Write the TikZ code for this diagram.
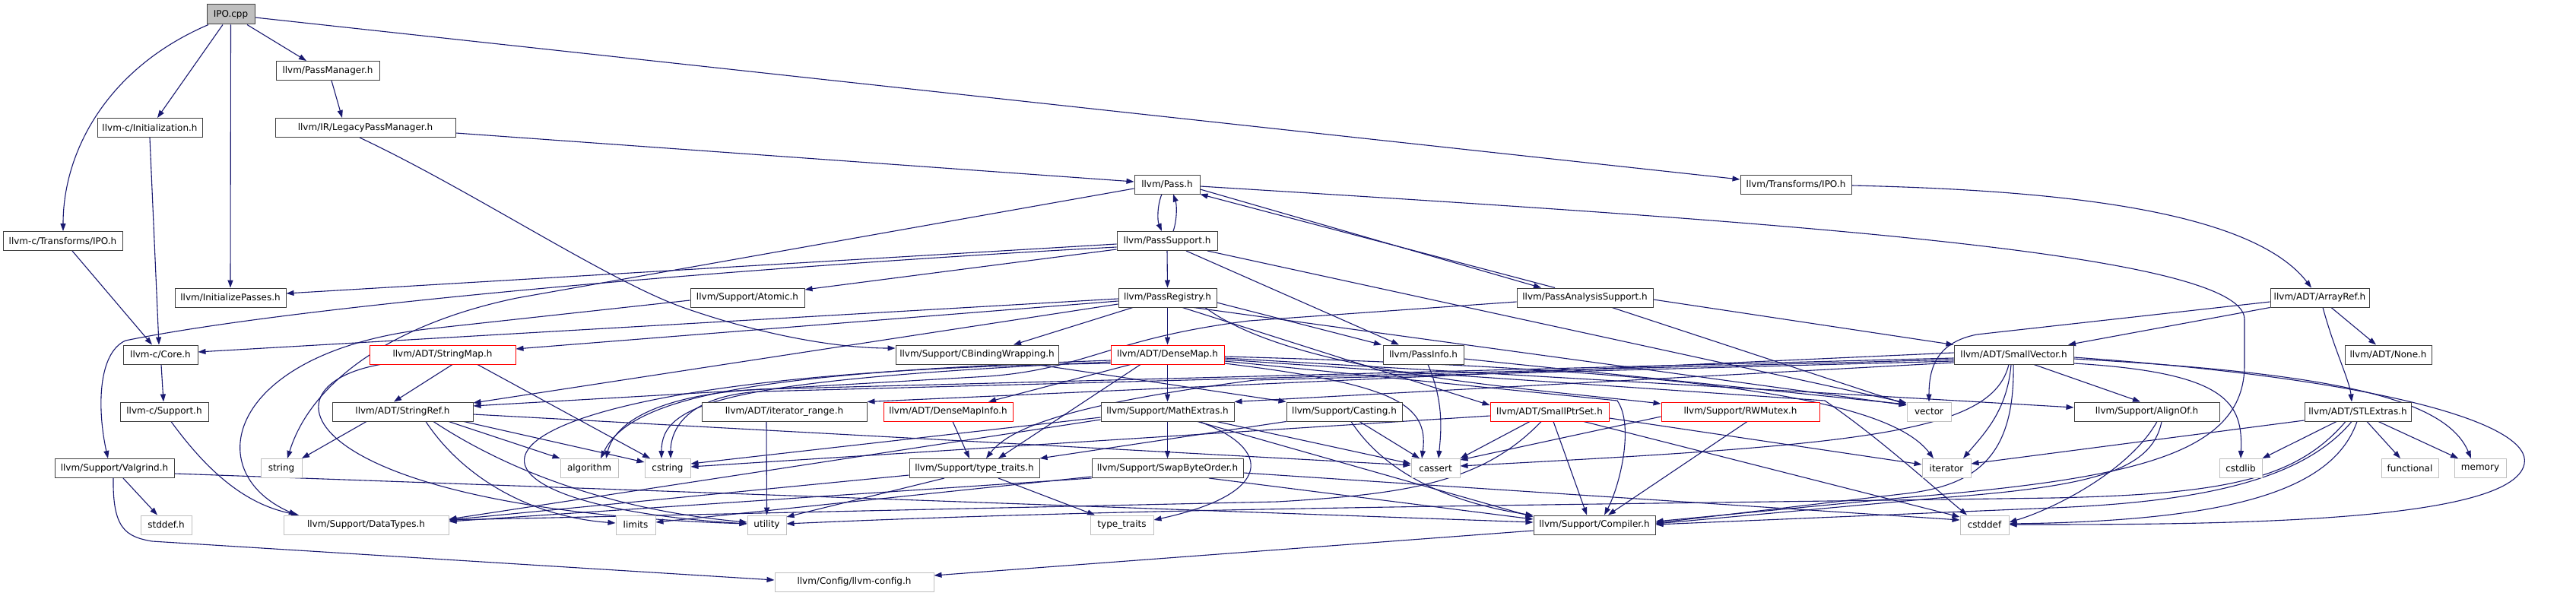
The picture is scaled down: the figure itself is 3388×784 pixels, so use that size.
\documentclass[tikz,border=0pt]{standalone}
\usepackage{fontspec}
\setmainfont{DejaVu Sans}
\usetikzlibrary{arrows.meta}
\definecolor{edgec}{HTML}{191970}
\definecolor{bordc}{HTML}{404040}
\definecolor{grayb}{HTML}{BFBFBF}
\definecolor{redb}{HTML}{FF0000}
\definecolor{ipof}{HTML}{BFBFBF}
\pgfdeclarelayer{back}
\pgfdeclarelayer{bg}
\pgfsetlayers{back,bg,main}
\begin{document}
\begin{tikzpicture}[x=1pt,y=-1pt,
  box/.style={draw=bordc, line width=1pt, fill=white, rectangle, inner sep=0pt,
    minimum height=25pt, font=\fontsize{12}{14}\selectfont},
  sysbox/.style={box, draw=grayb},
  trunc/.style={box, draw=redb},
  dep/.style={draw=edgec, line width=1.1pt, -{Triangle[length=10pt,width=7pt]}}]
\begin{pgfonlayer}{back}
\fill[white] (0,0) rectangle (3388,784);
\end{pgfonlayer}
\useasboundingbox (0,0) rectangle (3388,784);

% ---------------- nodes ----------------
\node[box, fill=ipof, minimum width=63pt, minimum height=26pt] (ipo) at (303.5,19) {IPO.cpp};
\node[box, minimum width=136pt] (pm) at (431,93) {llvm/PassManager.h};
\node[box, minimum width=138pt] (init) at (197,168) {llvm-c/Initialization.h};
\node[box, minimum width=237pt] (lpm) at (480.5,168) {llvm/IR/LegacyPassManager.h};
\node[box, minimum width=86pt] (pass) at (1535,242.5) {llvm/Pass.h};
\node[box, minimum width=146pt] (tipo) at (2362,242.5) {llvm/Transforms/IPO.h};
\node[box, minimum width=157pt] (tipoc) at (82.5,317) {llvm-c/Transforms/IPO.h};
\node[box, minimum width=132pt] (psup) at (1535,317) {llvm/PassSupport.h};
\node[box, minimum width=146pt] (initp) at (303,391.5) {llvm/InitializePasses.h};
\node[box, minimum width=150pt] (atomic) at (983,391.5) {llvm/Support/Atomic.h};
\node[box, minimum width=129pt] (preg) at (1535.5,391.5) {llvm/PassRegistry.h};
\node[box, minimum width=179pt] (pas) at (2084.5,391.5) {llvm/PassAnalysisSupport.h};
\node[box, minimum width=130pt] (aref) at (3051,391.5) {llvm/ADT/ArrayRef.h};
\node[box, minimum width=98pt] (core) at (211,466.5) {llvm-c/Core.h};
\node[trunc, minimum width=192pt] (smap) at (582,466.5) {llvm/ADT/StringMap.h};
\node[box, minimum width=214pt] (cbw) at (1285,466.5) {llvm/Support/CBindingWrapping.h};
\node[trunc, minimum width=149pt] (dmap) at (1535.5,466.5) {llvm/ADT/DenseMap.h};
\node[box, minimum width=106pt] (pinfo) at (1872,466.5) {llvm/PassInfo.h};
\node[box, minimum width=157pt] (svec) at (2648.5,466.5) {llvm/ADT/SmallVector.h};
\node[box, minimum width=114pt] (none) at (3141,466.5) {llvm/ADT/None.h};
\node[box, minimum width=116pt] (csup) at (216,541.5) {llvm-c/Support.h};
\node[box, minimum width=185pt] (sref) at (529.5,541.5) {llvm/ADT/StringRef.h};
\node[box, minimum width=217pt] (itr) at (1031.5,541.5) {llvm/ADT/iterator\_range.h};
\node[trunc, minimum width=170pt] (dmi) at (1247,541.5) {llvm/ADT/DenseMapInfo.h};
\node[box, minimum width=175pt] (mext) at (1535.5,541.5) {llvm/Support/MathExtras.h};
\node[box, minimum width=152pt] (cast) at (1768,541.5) {llvm/Support/Casting.h};
\node[trunc, minimum width=156pt] (sps) at (2038,541.5) {llvm/ADT/SmallPtrSet.h};
\node[trunc, minimum width=208pt] (rw) at (2289,541.5) {llvm/Support/RWMutex.h};
\node[sysbox, minimum width=58pt] (vector) at (2537,541.5) {vector};
\node[box, minimum width=191pt] (align) at (2823.5,541.5) {llvm/Support/AlignOf.h};
\node[box, minimum width=140pt] (stl) at (3101,541.5) {llvm/ADT/STLExtras.h};
\node[box, minimum width=157pt] (valg) at (150.5,616) {llvm/Support/Valgrind.h};
\node[sysbox, minimum width=54pt] (string) at (370,616) {string};
\node[sysbox, minimum width=76pt] (algo) at (775,616) {algorithm};
\node[sysbox, minimum width=60pt] (cstring) at (878,616) {cstring};
\node[box, minimum width=171pt] (ttr) at (1281.5,616) {llvm/Support/type\_traits.h};
\node[box, minimum width=199pt] (sbo) at (1535.5,616) {llvm/Support/SwapByteOrder.h};
\node[sysbox, minimum width=64pt] (cassert) at (1888,616) {cassert};
\node[sysbox, minimum width=64pt] (iter) at (2560,616) {iterator};
\node[sysbox, minimum width=56pt] (cstdlib) at (2947,616) {cstdlib};
\node[sysbox, minimum width=75pt] (func) at (3169.5,616) {functional};
\node[sysbox, minimum width=68pt] (memory) at (3262,616) {memory};
\node[sysbox, minimum width=67pt] (stddef) at (218.5,690.5) {stddef.h};
\node[sysbox, minimum width=217pt] (dtypes) at (481.5,690.5) {llvm/Support/DataTypes.h};
\node[sysbox, minimum width=52pt] (limits) at (836,690.5) {limits};
\node[sysbox, minimum width=51pt] (utility) at (1008.5,690.5) {utility};
\node[sysbox, minimum width=83pt] (tt) at (1475.5,690.5) {type\_traits};
\node[box, minimum width=160pt] (comp) at (2097,690.5) {llvm/Support/Compiler.h};
\node[sysbox, minimum width=64pt] (cstddef) at (2610,690.5) {cstddef};
\node[sysbox, minimum width=209pt] (cfg) at (1123.5,765.5) {llvm/Config/llvm-config.h};

% ---------------- edges ----------------
\begin{pgfonlayer}{bg}
% IPO.cpp
\draw[dep] (ipo.south -| 274,0) .. controls (140,90) and (83,200) .. (tipoc.north -| 83,0);
\draw[dep] (ipo.south -| 293,0) -- (init.north -| 207,0);
\draw[dep] (ipo.south) -- (initp.north);
\draw[dep] (ipo.south -| 325,0) -- (pm.north -| 403,0);
\draw[dep] (ipo.east |- 0,23) -- (tipo.west |- 0,236);
\draw[dep] (pm.south -| 436,0) -- (lpm.north -| 450,0);
\draw[dep] (init.south) -- (core.north -| 209,0);
\draw[dep] (tipoc.south -| 95,0) -- (core.north -| 200,0);
\draw[dep] (core.south -| 212,0) -- (csup.north -| 215,0);
% LegacyPassManager
\draw[dep] (lpm.east |- 0,175) -- (pass.west |- 0,239);
\draw[dep] (lpm.south -| 473,0) .. controls (620,250) and (800,370) .. (900,405) .. controls (1000,440) and (1100,458) .. (cbw.west |- 0,458);
% Pass.h
\draw[dep] (pass.south -| 1528,0) .. controls (1522,270) and (1522,290) .. (psup.north -| 1528,0);
\draw[dep] (psup.north -| 1543,0) .. controls (1548,290) and (1548,270) .. (pass.south -| 1543,0);
\draw[dep] (pass.east |- 0,249) -- (pas.north -| 2027,0);
\draw[dep] (pas.north -| 2045,0) -- (pass.south east);
\draw[dep] (pass.west |- 0,248) -- (680,392) .. controls (520,425) and (410,500) .. (string.north -| 378,0);
\draw[dep] (pass.east |- 0,245) .. controls (2300,290) and (2952,330) .. (2952,420) -- (2952,480) .. controls (2952,600) and (2800,630) .. (2500,655) -- (comp.east |- 0,686);
% PassSupport
\draw[dep] (psup.west |- 0,321) -- (initp.east |- 0,386);
\draw[dep] (psup.west |- 0,325) .. controls (1000,350) and (400,400) .. (165,448) .. controls (128,465) and (128,540) .. (valg.north -| 142,0);
\draw[dep] (psup.west |- 0,328) -- (atomic.east |- 0,381);
\draw[dep] (psup.south -| 1560,0) -- (pinfo.north -| 1840,0);
\draw[dep] (psup.south) -- (preg.north);
\draw[dep] (psup.south -| 1588,0) -- (vector.west |- 0,530);
% PassAnalysisSupport
\draw[dep] (pas.east |- 0,394) -- (svec.north west);
\draw[dep] (pas.south -| 2120,0) -- (vector.west |- 0,532);
\draw[dep] (pas.west |- 0,397) -- (1643,422) .. controls (1460,445) and (1430,485) .. (1300,495) -- (sref.east |- 0,534);
% Transforms/IPO.h
\draw[dep] (tipo.east |- 0,244) .. controls (2700,250) and (2960,275) .. (aref.north -| 3040,0);
% PassRegistry
\draw[dep] (preg.west |- 0,393) -- (core.east |- 0,463);
\draw[dep] (preg.west |- 0,396) -- (smap.east |- 0,459);
\draw[dep] (preg.south -| 1490,0) -- (cbw.north -| 1333,0);
\draw[dep] (preg.south) -- (dmap.north);
\draw[dep] (preg.east |- 0,398) -- (pinfo.north -| 1817,0);
\draw[dep] (preg.west |- 0,400) -- (sref.east |- 0,530);
\draw[dep] (preg.south -| 1585,0) .. controls (1700,490) and (2000,510) .. (rw.west |- 0,531);
\draw[dep] (preg.south -| 1570,0) -- (vector.west |- 0,533);
\draw[dep] (preg.south -| 1555,0) -- (sps.west |- 0,533);
% StringMap
\draw[dep] (smap.south -| 595,0) -- (sref.north -| 518,0);
\draw[dep] (smap.south -| 628,0) -- (cstring.north -| 855,0);
\draw[dep] (smap.south -| 500,0) .. controls (330,510) and (400,670) .. (utility.west |- 0,689);
% StringRef
\draw[dep] (sref.south -| 482,0) -- (string.north -| 397,0);
\draw[dep] (sref.south -| 590,0) -- (algo.north west);
\draw[dep] (sref.south -| 610,0) -- (cstring.west |- 0,608);
\draw[dep] (sref.south -| 560,0) .. controls (610,630) and (700,680) .. (limits.west |- 0,688);
\draw[dep] (sref.south -| 570,0) .. controls (700,640) and (850,675) .. (utility.west |- 0,687);
\draw[dep] (sref.east |- 0,545) -- (cassert.west |- 0,612);
% Atomic, C support, Valgrind
\draw[dep] (atomic.west |- 0,395) -- (560,433) .. controls (300,465) and (260,620) .. (dtypes.north -| 390,0);
\draw[dep] (csup.south -| 225,0) .. controls (280,630) and (330,665) .. (dtypes.north -| 393,0);
\draw[dep] (valg.south -| 162,0) -- (stddef.north -| 207,0);
\draw[dep] (valg.south -| 149,0) .. controls (148,695) and (165,706) .. (200,712) -- (cfg.west |- 0,763);
\draw[dep] (valg.east |- 0,623) -- (comp.west |- 0,687);
% type_traits.h
\draw[dep] (ttr.south -| 1242,0) -- (utility.east |- 0,680);
\draw[dep] (ttr.south -| 1313,0) -- (tt.north -| 1440,0);
\draw[dep] (ttr.west |- 0,625) -- (dtypes.east |- 0,684);
% MathExtras
\draw[dep] (mext.south) -- (sbo.north);
\draw[dep] (mext.south -| 1575,0) -- (comp.west |- 0,680);
\draw[dep] (mext.south -| 1600,0) -- (cassert.west |- 0,610);
\draw[dep] (mext.west |- 0,549) -- (cstring.east |- 0,610);
\draw[dep] (mext.south -| 1577,0) .. controls (1675,590) and (1675,650) .. (tt.east |- 0,684);
\draw[dep] (mext.west |- 0,552) -- (dtypes.east |- 0,683);
% SwapByteOrder
\draw[dep] (sbo.west |- 0,627) -- (limits.east |- 0,687);
\draw[dep] (sbo.south west) -- (dtypes.east |- 0,686);
\draw[dep] (sbo.south -| 1590,0) -- (comp.west |- 0,683);
\draw[dep] (sbo.east |- 0,622) -- (cstddef.west |- 0,684);
% DenseMap
\draw[dep] (dmap.south -| 1487,0) -- (dmi.north -| 1300,0);
\draw[dep] (dmap.south) -- (mext.north);
\draw[dep] (dmap.south -| 1500,0) -- (ttr.north -| 1313,0);
\draw[dep] (dmap.west |- 0,474) .. controls (1000,490) and (830,520) .. (algo.north -| 790,0);
\draw[dep] (dmap.west |- 0,476) .. controls (950,500) and (870,530) .. (cstring.north -| 870,0);
\draw[dep] (dmap.west |- 0,478) .. controls (560,490) and (520,660) .. (utility.west |- 0,689);
\draw[dep] (dmap.east |- 0,471) -- (align.west |- 0,536);
\draw[dep] (dmap.east |- 0,473) -- (2400,527) .. controls (2470,575) and (2530,630) .. (cstddef.north -| 2587,0);
\draw[dep] (dmap.east |- 0,475) -- (2127,527) .. controls (2150,560) and (2130,640) .. (comp.north -| 2110,0);
\draw[dep] (dmap.east |- 0,478) .. controls (1830,505) and (1880,530) .. (cassert.north -| 1870,0);
\draw[dep] (dmap.east |- 0,469) .. controls (2200,485) and (2480,520) .. (iter.north -| 2543,0);
% DenseMapInfo, iterator_range, CBindingWrapping
\draw[dep] (dmi.south -| 1253,0) -- (ttr.north -| 1275,0);
\draw[dep] (itr.south -| 1008,0) -- (utility.north);
\draw[dep] (cbw.south -| 1363,0) -- (cast.north west);
% Casting
\draw[dep] (cast.south -| 1777,0) .. controls (1820,620) and (1900,660) .. (comp.west |- 0,678);
\draw[dep] (cast.south -| 1788,0) -- (cassert.north -| 1867,0);
\draw[dep] (cast.south west) -- (ttr.north east);
% PassInfo
\draw[dep] (pinfo.south -| 1878,0) .. controls (1900,530) and (1895,570) .. (cassert.north -| 1892,0);
\draw[dep] (pinfo.east |- 0,472) -- (vector.west |- 0,532);
% SmallPtrSet
\draw[dep] (sps.south -| 2012,0) -- (cassert.north east);
\draw[dep] (sps.south -| 2043,0) -- (comp.north -| 2087,0);
\draw[dep] (sps.south -| 2027,0) .. controls (1950,635) and (1850,650) .. (1680,660) -- (dtypes.east |- 0,684);
\draw[dep] (sps.west |- 0,547) -- (cstring.east |- 0,614);
\draw[dep] (sps.east |- 0,550) -- (iter.west |- 0,611);
\draw[dep] (sps.south -| 2083,0) -- (cstddef.west |- 0,680);
% RWMutex
\draw[dep] (rw.south -| 2298,0) -- (comp.north -| 2115,0);
\draw[dep] (rw.west |- 0,548) -- (cassert.east |- 0,605);
% SmallVector
\draw[dep] (svec.west |- 0,464) -- (itr.north east);
\draw[dep] (svec.south -| 2675,0) -- (align.north -| 2815,0);
\draw[dep] (svec.south -| 2648,0) .. controls (2650,600) and (2600,640) .. (2500,650) -- (comp.east |- 0,688);
\draw[dep] (svec.south -| 2642,0) .. controls (2620,570) and (2450,585) .. (cassert.east |- 0,613);
\draw[dep] (svec.south -| 2645,0) .. controls (2640,540) and (2610,570) .. (iter.north -| 2582,0);
\draw[dep] (svec.east |- 0,478) .. controls (2930,490) and (2950,530) .. (cstdlib.north);
\draw[dep] (svec.east |- 0,472) .. controls (3050,490) and (3215,520) .. (memory.north -| 3250,0);
\draw[dep] (svec.east |- 0,470) .. controls (3150,500) and (3330,560) .. (3320,610) .. controls (3305,690) and (2900,690) .. (cstddef.east |- 0,690);
\draw[dep] (svec.west |- 0,471) -- (1000,512) .. controls (880,518) and (810,550) .. (algo.north -| 797,0);
\draw[dep] (svec.west |- 0,473) -- (1000,515) .. controls (910,520) and (882,560) .. (cstring.north -| 882,0);
\draw[dep] (svec.west |- 0,475) -- (1650,500) .. controls (1420,530) and (1330,560) .. (ttr.north -| 1297,0);
\draw[dep] (svec.west |- 0,477) -- (mext.north east);
% ArrayRef
\draw[dep] (aref.south -| 3055,0) .. controls (3070,460) and (3090,500) .. (stl.north -| 3093,0);
\draw[dep] (aref.south -| 3066,0) -- (none.north -| 3125,0);
\draw[dep] (aref.south west) -- (svec.north -| 2720,0);
\draw[dep] (aref.west |- 0,397) -- (2600,440) .. controls (2550,450) and (2537,480) .. (vector.north);
% STLExtras
\draw[dep] (stl.south -| 3073,0) -- (cstdlib.north east);
\draw[dep] (stl.south -| 3113,0) -- (func.north -| 3157,0);
\draw[dep] (stl.south -| 3128,0) -- (memory.north -| 3233,0);
\draw[dep] (stl.west |- 0,553) -- (iter.east |- 0,610);
\draw[dep] (stl.south -| 3100,0) .. controls (3070,640) and (2950,685) .. (cstddef.east |- 0,689);
\draw[dep] (stl.south -| 3093,0) .. controls (3030,630) and (2900,660) .. (2700,668) -- (comp.east |- 0,690);
\draw[dep] (stl.south -| 3085,0) .. controls (3020,630) and (2930,650) .. (2700,655) .. controls (2000,665) and (1500,668) .. (utility.east |- 0,689);
% AlignOf
\draw[dep] (align.south -| 2843,0) .. controls (2830,620) and (2750,640) .. (2550,655) -- (comp.east |- 0,689);
\draw[dep] (align.south -| 2837,0) .. controls (2800,620) and (2700,670) .. (cstddef.east |- 0,687);
% Compiler
\draw[dep] (comp.west |- 0,698) -- (cfg.east |- 0,757);
\end{pgfonlayer}
\end{tikzpicture}
\end{document}
